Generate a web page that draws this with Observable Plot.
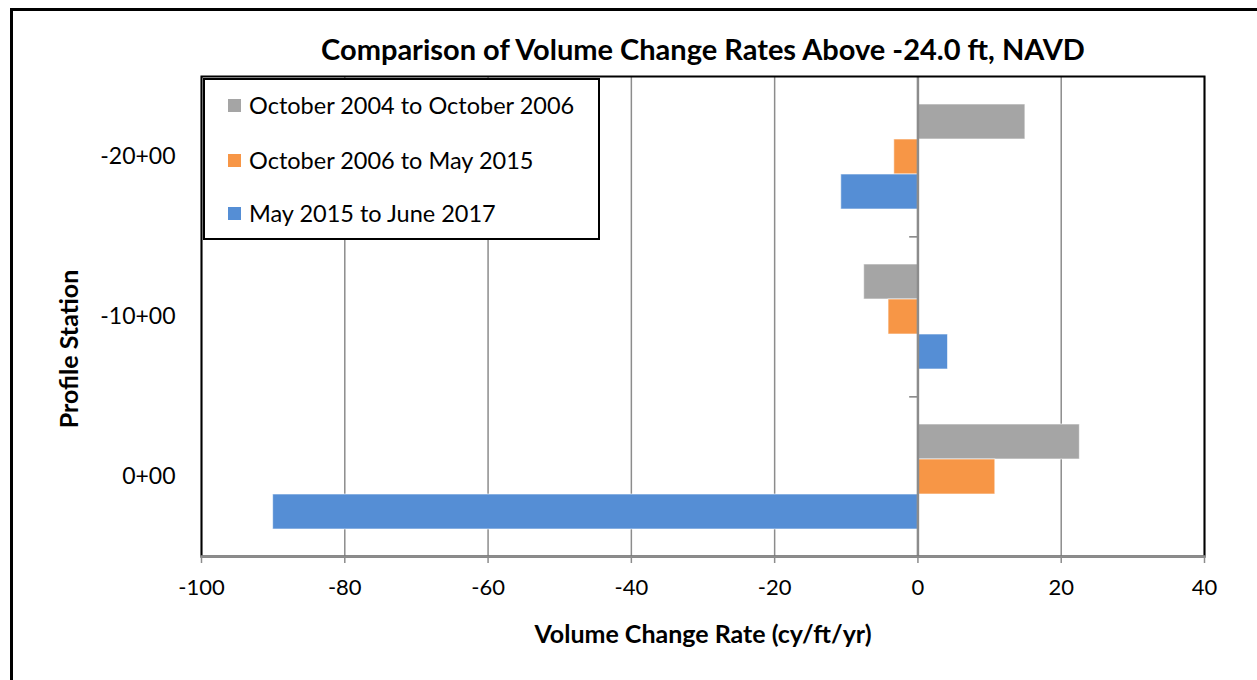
<!DOCTYPE html>
<html>
<head>
<meta charset="utf-8">
<script src="https://cdn.jsdelivr.net/npm/d3@7"></script>
<script src="https://cdn.jsdelivr.net/npm/@observablehq/plot@0.6"></script>
<style>
  html, body { margin: 0; padding: 0; background: #fff; overflow: hidden; }
  #wrap { position: relative; width: 1257px; height: 680px; font-family: Lato, "Open Sans", sans-serif; color: #000; }
  #outer { position: absolute; left: 10px; top: 8px; width: 1300px; height: 720px; border: 3px solid #000; box-sizing: border-box; }
  #chart { position: absolute; left: 0; top: 0; }
  #title { position: absolute; left: 0; width: 1406px; top: 31px; line-height: 36px; text-align: center; font-weight: bold; font-size: 29px; }
  #xlabel { position: absolute; left: 0; width: 1406px; top: 618px; line-height: 30px; text-align: center; font-weight: bold; font-size: 25px; }
  #ylabel { position: absolute; left: 68px; top: 349px; transform: translate(-50%, -50%) rotate(-90deg); white-space: nowrap; font-weight: bold; font-size: 25px; line-height: 30px; }
  #legend { position: absolute; left: 203px; top: 78px; width: 397px; height: 162px; border: 2px solid #000; background: #fff; box-sizing: border-box; }
  .item { position: absolute; left: 23px; font-size: 23.5px; line-height: 28px; white-space: nowrap; }
  .sw { display: inline-block; width: 13px; height: 13px; margin-right: 8px; vertical-align: 2px; }
</style>
</head>
<body>
<div id="wrap">
  <div id="outer"></div>
  <div id="chart"></div>
  <div id="title"></div>
  <div id="xlabel"></div>
  <div id="ylabel"></div>
  <div id="legend"></div>
</div>
<script>
// ---- data ----
const chartTitle = "Comparison of Volume Change Rates Above -24.0 ft, NAVD";
const xLabel = "Volume Change Rate (cy/ft/yr)";
const yLabel = "Profile Station";
const stations = ["-20+00", "-10+00", "0+00"];
const seriesNames = ["October 2004 to October 2006", "October 2006 to May 2015", "May 2015 to June 2017"];
const seriesColors = ["#A5A5A5", "#F79646", "#558ED5"];
const oct2004ToOct2006 = [15.0, -7.5, 22.6];
const oct2006ToMay2015 = [-3.3, -4.1, 10.8];
const may2015ToJun2017 = [-10.7, 4.2, -90.0];
const xTicks = [-100, -80, -60, -40, -20, 0, 20, 40];

const seriesValues = [oct2004ToOct2006, oct2006ToMay2015, may2015ToJun2017];
const rows = [];
stations.forEach((st, i) => seriesNames.forEach((s, j) => rows.push({station: st, series: s, value: seriesValues[j][i]})));
const boundaryStations = stations.slice(1).map(s => ({station: s}));

const W = 1257, H = 680;
const mTop = 75, mBottom = 124, mLeft = 201, mRight = 53;
const facetH = (H - mTop - mBottom) / stations.length;
const gridColor = "#8C8C8C";

const plot = Plot.plot({
  width: W, height: H,
  marginTop: mTop, marginBottom: mBottom, marginLeft: mLeft, marginRight: mRight,
  style: {fontFamily: "Lato, 'Open Sans', sans-serif", fontSize: "22px", color: "#000", background: "transparent", overflow: "visible"},
  x: {domain: [-100, 40], ticks: xTicks, label: null},
  y: {domain: seriesNames, paddingInner: 0, paddingOuter: 0.75, axis: null},
  fy: {domain: stations, padding: 0, label: null},
  color: {domain: seriesNames, range: seriesColors},
  marks: [
    Plot.ruleX(xTicks, {stroke: gridColor, strokeWidth: 1.5}),
    Plot.barX(rows, {x: "value", y: "series", fy: "station", fill: "series", stroke: "#fff", strokeOpacity: 0.6, strokeWidth: 1}),
    Plot.ruleX([0], {stroke: gridColor, strokeWidth: 2.5}),
    Plot.rect(boundaryStations, {fy: "station", x1: -1.15, x2: 0, fill: gridColor, insetBottom: facetH - 2}),
    Plot.frame({facet: "super", stroke: "#000", strokeWidth: 2}),
    Plot.frame({facet: "super", anchor: "bottom", stroke: gridColor, strokeWidth: 2.5}),
    Plot.axisX(xTicks, {anchor: "bottom", tickSize: 7, tickPadding: 16, tickFormat: d => String(d), stroke: gridColor, strokeWidth: 1.5, fill: "#000", fontSize: 22, label: null}),
    Plot.axisFy({anchor: "left", tickSize: 0, tickPadding: 26, fontSize: 23, label: null})
  ]
});
document.getElementById("chart").appendChild(plot);

document.getElementById("title").textContent = chartTitle;
document.getElementById("xlabel").textContent = xLabel;
document.getElementById("ylabel").textContent = yLabel;

const legend = document.getElementById("legend");
const rowCenters = [25, 80, 133];
seriesNames.forEach((s, j) => {
  const it = document.createElement("div");
  it.className = "item";
  it.style.top = (rowCenters[j] - 14) + "px";
  const sw = document.createElement("span");
  sw.className = "sw";
  sw.style.background = seriesColors[j];
  it.appendChild(sw);
  it.appendChild(document.createTextNode(s));
  legend.appendChild(it);
});
</script>
</body>
</html>
